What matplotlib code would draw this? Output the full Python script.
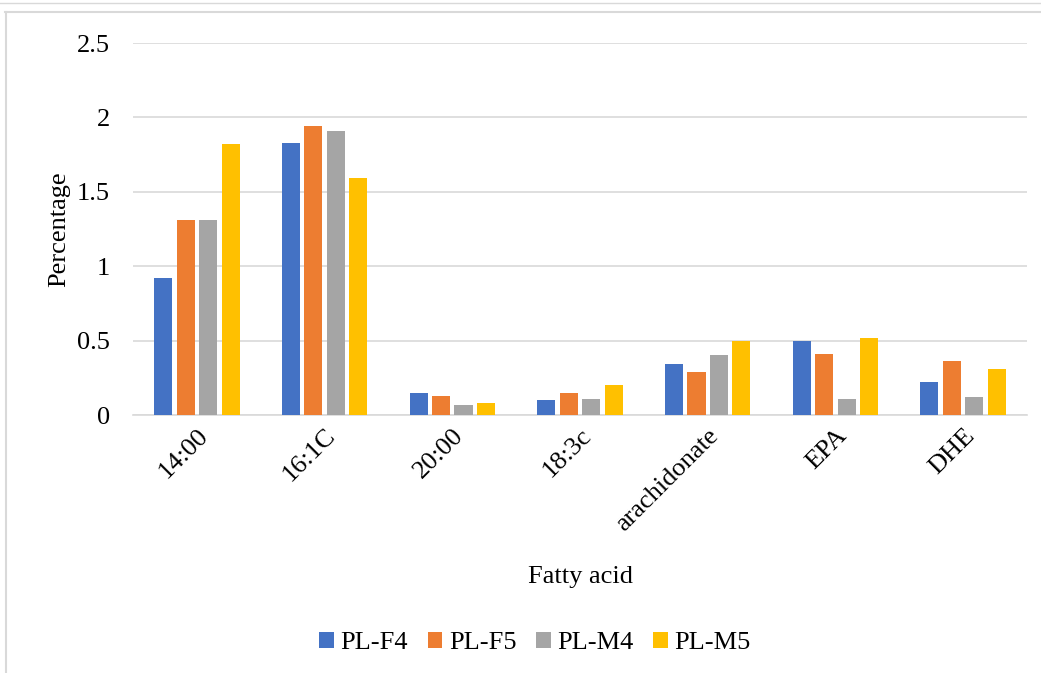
import numpy as np
import matplotlib
matplotlib.use('Agg')
import matplotlib.pyplot as plt
from matplotlib.lines import Line2D

plt.rcParams['font.family'] = ['Liberation Serif', 'DejaVu Serif']

acids = ['14:00', '16:1C', '20:00', '18:3c', 'arachidonate', 'EPA', 'DHE']
series = ['PL-F4', 'PL-F5', 'PL-M4', 'PL-M5']
pl_f4 = [0.92, 1.83, 0.15, 0.10, 0.34, 0.50, 0.22]
pl_f5 = [1.31, 1.94, 0.13, 0.15, 0.29, 0.41, 0.36]
pl_m4 = [1.31, 1.91, 0.07, 0.11, 0.40, 0.11, 0.12]
pl_m5 = [1.82, 1.59, 0.08, 0.20, 0.50, 0.52, 0.31]
colors = ['#4472C4', '#ED7D31', '#A5A5A5', '#FFC000']

fs = 19

fig = plt.figure(figsize=(10.41, 6.73), dpi=100)
ax = fig.add_axes([133 / 1041, 1 - 415 / 673, 894 / 1041, 372 / 673])

x = np.arange(len(acids))
step = 0.176
width = 0.142
for i, (name, vals) in enumerate(zip(series, [pl_f4, pl_f5, pl_m4, pl_m5])):
    ax.bar(x + (i - 1.5) * step, vals, width, color=colors[i], label=name, zorder=3)

ax.set_xlim(-0.5, len(acids) - 0.5)
ax.set_ylim(0, 2.5)
ax.set_yticks([0, 0.5, 1, 1.5, 2, 2.5])
ax.set_yticklabels(['0', '0.5', '1', '1.5', '2', '2.5'])
ax.yaxis.grid(True, color='#d9d9d9', linewidth=1.2, zorder=0)
ax.set_xticks(x)
ax.set_xticklabels(acids, rotation=45, ha='right', rotation_mode='anchor')
ax.tick_params(axis='both', length=0, labelsize=fs)
ax.tick_params(axis='y', pad=16.5)
ax.tick_params(axis='x', pad=7)
for s in ['top', 'right', 'left']:
    ax.spines[s].set_visible(False)
ax.spines['bottom'].set_color('#d9d9d9')
ax.spines['bottom'].set_linewidth(1.2)

ax.set_xlabel('Fatty acid', fontsize=fs)
ax.xaxis.set_label_coords(0.5, -0.405)
ax.set_ylabel('Percentage', fontsize=fs)
ax.yaxis.set_label_coords(-0.07, 0.5)

fig.legend(loc='center', bbox_to_anchor=(535 / 1041, 1 - 643 / 673), ncol=4,
           frameon=False, fontsize=fs, handlelength=0.55, handleheight=0.55,
           handletextpad=0.25, columnspacing=0.75)

# outer chart frame
fig.add_artist(Line2D([0, 1], [1 - 3 / 673, 1 - 3 / 673], color='#d9d9d9', lw=1))
fig.add_artist(Line2D([5 / 1041, 1], [1 - 12 / 673, 1 - 12 / 673], color='#d9d9d9', lw=1.5))
fig.add_artist(Line2D([6 / 1041, 6 / 1041], [0, 1 - 12 / 673], color='#d9d9d9', lw=1.5))

fig.savefig('out.png', dpi=100, facecolor='white')
